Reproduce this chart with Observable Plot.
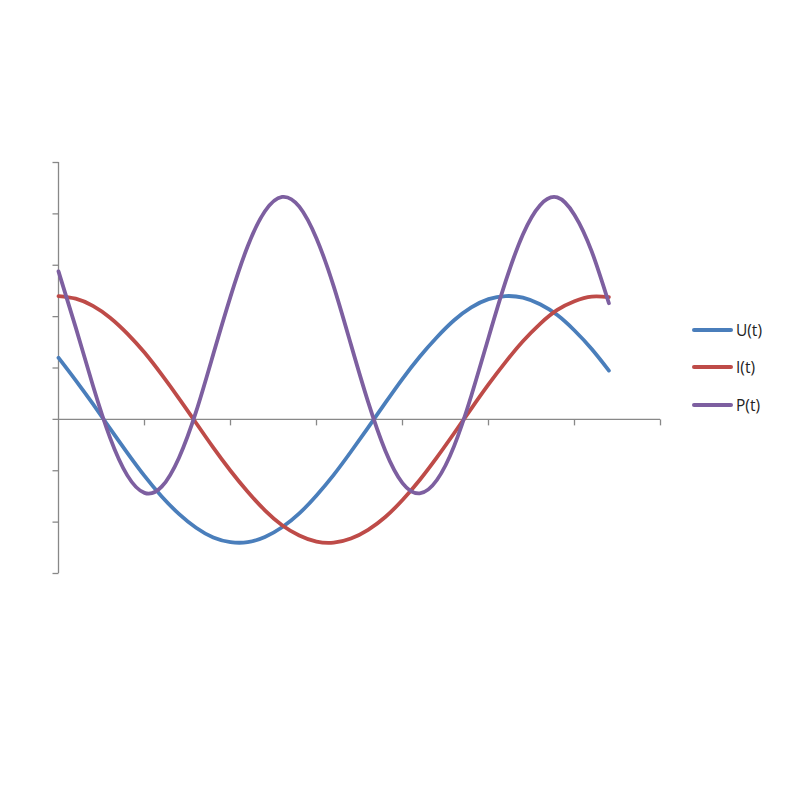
<!DOCTYPE html>
<html>
<head>
<meta charset="utf-8">
<script src="https://cdn.jsdelivr.net/npm/d3@7"></script>
<script src="https://cdn.jsdelivr.net/npm/@observablehq/plot@0.6"></script>
<style>
  body { margin: 0; background: #fff; }
  #wrap { position: relative; width: 800px; height: 800px; }
  #legend { position: absolute; left: 692px; top: 311px; font-family: "Open Sans", "Liberation Sans", sans-serif; font-size: 15.5px; color: #222; }
  .item { display: flex; align-items: center; height: 37.5px; }
  .sw { width: 41px; height: 4px; border-radius: 2px; margin-right: 3px; }
</style>
</head>
<body>
<div id="wrap"><div id="legend"></div></div>
<script>
const t = [0,0.2,0.4,0.6,0.8,1.0,1.2,1.4,1.6,1.8,2.0,2.2,2.4,2.6,2.8,3.0,3.2,3.4,3.6,3.8,4.0,4.2,4.4,4.6,4.8,5.0,5.2,5.4,5.6,5.8,6.0,6.2,6.4];
const U = [1.20,0.76,0.30,-0.18,-0.65,-1.10,-1.50,-1.84,-2.11,-2.30,-2.39,-2.39,-2.29,-2.10,-1.83,-1.48,-1.08,-0.63,-0.16,0.32,0.79,1.22,1.60,1.93,2.18,2.34,2.40,2.37,2.24,2.03,1.73,1.37,0.95];
const I = [2.40,2.35,2.21,1.98,1.67,1.30,0.87,0.41,-0.07,-0.55,-1.00,-1.41,-1.77,-2.06,-2.26,-2.38,-2.40,-2.32,-2.15,-1.90,-1.57,-1.18,-0.74,-0.27,0.21,0.68,1.12,1.52,1.86,2.13,2.30,2.39,2.38];
const P = [2.88,1.79,0.66,-0.36,-1.09,-1.43,-1.31,-0.75,0.15,1.27,2.39,3.37,4.05,4.33,4.14,3.52,2.59,1.46,0.34,-0.61,-1.24,-1.44,-1.18,-0.52,0.46,1.59,2.69,3.60,4.17,4.32,3.98,3.27,2.26];
const seriesNames = ["U(t)", "I(t)", "P(t)"];
const seriesColors = ["#4a7ebb", "#be4b48", "#7d5fa0"];
const xTicks = [0,1,2,3,4,5,6,7];
const yTicks = [-3,-2,-1,0,1,2,3,4,5];

const rows = [];
[U, I, P].forEach((vals, k) => vals.forEach((v, i) => rows.push({s: seriesNames[k], t: t[i], v})));

const downTick = {draw(ctx) { ctx.moveTo(0, 0); ctx.lineTo(0, 6); }};
const leftTick = {draw(ctx) { ctx.moveTo(0, 0); ctx.lineTo(-6, 0); }};

const chart = Plot.plot({
  width: 800, height: 800,
  marginLeft: 58, marginRight: 140, marginTop: 162, marginBottom: 227,
  x: {domain: [0, 7], axis: null},
  y: {domain: [-3, 5], axis: null},
  color: {domain: seriesNames, range: seriesColors},
  marks: [
    Plot.ruleX([0], {y1: -3, y2: 5, stroke: "#888", strokeWidth: 1.3}),
    Plot.ruleY([0], {x1: 0, x2: 7, stroke: "#888", strokeWidth: 1.3}),
    Plot.dot(xTicks.slice(1), {x: d => d, y: 0, symbol: downTick, stroke: "#888", strokeWidth: 1.3, fill: "none"}),
    Plot.dot(yTicks, {x: 0, y: d => d, symbol: leftTick, stroke: "#888", strokeWidth: 1.3, fill: "none"}),
    Plot.line(rows, {x: "t", y: "v", z: "s", stroke: "s", strokeWidth: 3.8, curve: "natural", strokeLinecap: "round"})
  ]
});
document.getElementById("wrap").prepend(chart);
chart.style.position = "absolute"; chart.style.left = "0"; chart.style.top = "0";

const leg = document.getElementById("legend");
seriesNames.forEach((n, k) => {
  const it = document.createElement("div"); it.className = "item";
  const sw = document.createElement("div"); sw.className = "sw"; sw.style.background = seriesColors[k];
  const tx = document.createElement("span"); tx.textContent = n;
  it.append(sw, tx); leg.append(it);
});
</script>
</body>
</html>
